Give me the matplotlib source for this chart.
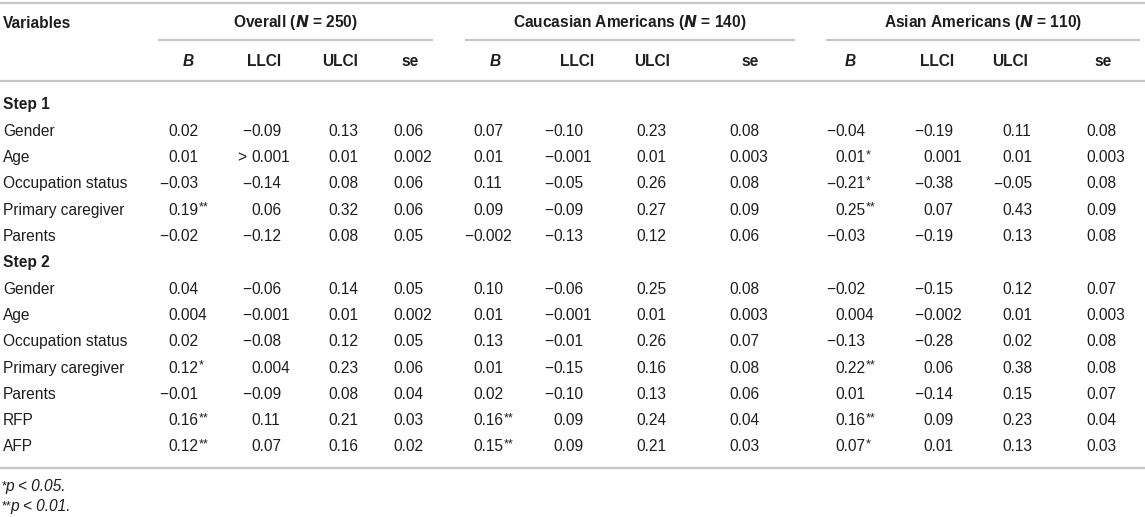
import matplotlib
matplotlib.use("Agg")
import matplotlib.pyplot as plt

plt.rcParams['font.family'] = ['Liberation Sans', 'DejaVu Sans']

# ---------------- data ----------------
group_titles = ["Overall", "Caucasian Americans", "Asian Americans"]
group_n = ["250", "140", "110"]
col_headers = ["B", "LLCI", "ULCI", "se"]
step_titles = ["Step 1", "Step 2"]
step1_vars = ["Gender", "Age", "Occupation status", "Primary caregiver", "Parents"]
step2_vars = ["Gender", "Age", "Occupation status", "Primary caregiver", "Parents", "RFP", "AFP"]

overall_B    = ["0.02", "0.01", "−0.03", "0.19**", "−0.02",
                "0.04", "0.004", "0.02", "0.12*", "−0.01", "0.16**", "0.12**"]
overall_LLCI = ["−0.09", "> 0.001", "−0.14", "0.06", "−0.12",
                "−0.06", "−0.001", "−0.08", "0.004", "−0.09", "0.11", "0.07"]
overall_ULCI = ["0.13", "0.01", "0.08", "0.32", "0.08",
                "0.14", "0.01", "0.12", "0.23", "0.08", "0.21", "0.16"]
overall_se   = ["0.06", "0.002", "0.06", "0.06", "0.05",
                "0.05", "0.002", "0.05", "0.06", "0.04", "0.03", "0.02"]

cauc_B    = ["0.07", "0.01", "0.11", "0.09", "−0.002",
             "0.10", "0.01", "0.13", "0.01", "0.02", "0.16**", "0.15**"]
cauc_LLCI = ["−0.10", "−0.001", "−0.05", "−0.09", "−0.13",
             "−0.06", "−0.001", "−0.01", "−0.15", "−0.10", "0.09", "0.09"]
cauc_ULCI = ["0.23", "0.01", "0.26", "0.27", "0.12",
             "0.25", "0.01", "0.26", "0.16", "0.13", "0.24", "0.21"]
cauc_se   = ["0.08", "0.003", "0.08", "0.09", "0.06",
             "0.08", "0.003", "0.07", "0.08", "0.06", "0.04", "0.03"]

asian_B    = ["−0.04", "0.01*", "−0.21*", "0.25**", "−0.03",
              "−0.02", "0.004", "−0.13", "0.22**", "0.01", "0.16**", "0.07*"]
asian_LLCI = ["−0.19", "0.001", "−0.38", "0.07", "−0.19",
              "−0.15", "−0.002", "−0.28", "0.06", "−0.14", "0.09", "0.01"]
asian_ULCI = ["0.11", "0.01", "−0.05", "0.43", "0.13",
              "0.12", "0.01", "0.02", "0.38", "0.15", "0.23", "0.13"]
asian_se   = ["0.08", "0.003", "0.08", "0.09", "0.08",
              "0.07", "0.003", "0.08", "0.08", "0.07", "0.04", "0.03"]

groups_data = [
    [overall_B, overall_LLCI, overall_ULCI, overall_se],
    [cauc_B, cauc_LLCI, cauc_ULCI, cauc_se],
    [asian_B, asian_LLCI, asian_ULCI, asian_se],
]
footnotes = [("*", "p < 0.05."), ("**", "p < 0.01.")]

# ---------------- layout ----------------
W, H = 1145, 517
fig = plt.figure(figsize=(W / 100, H / 100), dpi=100)
ax = fig.add_axes([0, 0, 1, 1])
ax.set_xlim(0, W)
ax.set_ylim(H, 0)
ax.axis("off")

TXT = "#1e1e1e"
LINE = "#c6c6c6"
FS = 11.2
STAR_FS = 9

# digit-start anchors for each group / column
anchors = [[168, 251, 328, 393], [473, 553, 636, 729], [835, 923, 1002, 1086]]
head_cx = [[188, 264, 340, 410], [495, 577, 652, 750], [850, 937, 1010, 1103]]
underline = [(158, 433), (465, 795), (826, 1140)]

y_title = 23
y_under = 40
y_sub = 61
y_step1 = 105
dy = 26.3

# horizontal rules
for yy in (3, 81, 468):
    ax.plot([0, W], [yy, yy], color=LINE, lw=1.6, solid_capstyle="butt")
for (x0, x1) in underline:
    ax.plot([x0, x1], [y_under, y_under], color=LINE, lw=1.6, solid_capstyle="butt")

# header
ax.text(3, y_title, "Variables", fontsize=FS, fontweight="bold", color=TXT,
        ha="left", va="center")
for g in range(3):
    cx = (underline[g][0] + underline[g][1]) / 2
    ax.text(cx, y_title, group_titles[g] + " (" + "$\\mathbfit{N}$" + " = " + group_n[g] + ")",
            fontsize=FS, fontweight="bold", color=TXT, ha="center", va="center")
    for c, h in enumerate(col_headers):
        ax.text(head_cx[g][c], y_sub, h, fontsize=FS, fontweight="bold",
                fontstyle="italic" if h == "B" else "normal",
                color=TXT, ha="center", va="center")

# rows
row_labels = []
row_y = []
y = y_step1
for s, (title, vars_) in enumerate(zip(step_titles, [step1_vars, step2_vars])):
    ax.text(3, y, title, fontsize=FS, fontweight="bold", color=TXT, ha="left", va="center")
    y += dy
    for v in vars_:
        row_labels.append(v)
        row_y.append(y)
        y += dy

for lab, yy in zip(row_labels, row_y):
    ax.text(3, yy, lab, fontsize=FS, color=TXT, ha="left", va="center")


def draw_value(x, yy, s):
    stars = ""
    while s.endswith("*"):
        stars += "*"
        s = s[:-1]
    prefix = ""
    if s.startswith("−"):
        prefix, s = "−", s[1:]
    elif s.startswith(">"):
        prefix, s = "> ", s[1:].strip()
    t = ax.text(x, yy, s, fontsize=FS, color=TXT, ha="left", va="center")
    if prefix:
        ax.text(x, yy, prefix, fontsize=FS, color=TXT, ha="right", va="center")
    if stars:
        ax.annotate(stars, xy=(1.0, 1.0), xycoords=t, xytext=(0.3, 0.8),
                    textcoords="offset points", fontsize=STAR_FS, color=TXT,
                    ha="left", va="top")


for g in range(3):
    for c in range(4):
        col = groups_data[g][c]
        for val, yy in zip(col, row_y):
            draw_value(anchors[g][c], yy, val)

# footnotes
fy = [487, 507]
for (st, txt), yy in zip(footnotes, fy):
    t = ax.annotate(st, xy=(2, yy - 7), fontsize=STAR_FS, color=TXT, ha="left", va="top")
    ax.annotate(txt, xy=(1.0, 1.0), xycoords=t, xytext=(-0.8, 0.8),
                textcoords="offset points", fontsize=FS, fontstyle="italic",
                color=TXT, ha="left", va="top")

fig.savefig("out.png", dpi=100)
